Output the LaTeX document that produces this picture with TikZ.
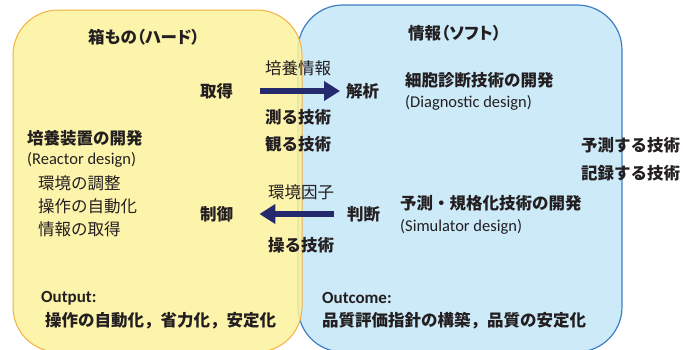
\documentclass[tikz,border=0pt]{standalone}
\usepackage{fontspec}
\setmainfont{Carlito}
\newfontfamily\jp{Noto Sans CJK JP}
\newfontfamily\jpp[RawFeature=+palt]{Noto Sans CJK JP}
\usetikzlibrary{arrows.meta}
\definecolor{txt}{HTML}{231F20}
\definecolor{yfill}{HTML}{FDF29E}
\definecolor{yline}{HTML}{F5B041}
\definecolor{bfill}{HTML}{CDEAF9}
\definecolor{bline}{HTML}{3F7FC4}
\definecolor{navy}{HTML}{252A6E}
\tikzset{
  jb/.style={inner sep=0pt, anchor=west, text=txt, font=\jp\bfseries\fontsize{16.5}{18}\selectfont},
  jt/.style={inner sep=0pt, anchor=west, text=txt, font=\jpp\bfseries\fontsize{16.5}{18}\selectfont},
  jr/.style={inner sep=0pt, anchor=west, text=txt, font=\jp\fontsize{16.5}{18}\selectfont},
  lr/.style={inner sep=0pt, anchor=west, text=txt, font=\fontsize{16.5}{18}\selectfont},
  lb/.style={inner sep=0pt, anchor=west, text=txt, font=\bfseries\fontsize{17}{18}\selectfont},
  bigarrow/.style={draw=navy, line width=6pt, -{Triangle[length=16pt,width=19pt]}},
}
\begin{document}
\begin{tikzpicture}[x=1pt,y=-1pt]
\useasboundingbox (0,0) rectangle (683,349);
% boxes
\draw[fill=bfill, draw=bline, line width=1.2pt, rounded corners=45pt] (298,5) rectangle (622,352);
\fill[yfill, opacity=0.85, rounded corners=45pt] (13,10) rectangle (302,352);
\draw[draw=yline, line width=1pt, rounded corners=45pt] (13,10) rectangle (302,352);
% titles
\node[jt] (hard) at (88,37) {箱もの（ハード）};
\node[jt] (soft) at (408,33) {情報（ソフト）};
% left column
\node[jb] (reactor) at (27,138) {培養装置の開発};
\node[lr] (reactoren) at (27,160) {(Reactor design)};
\node[jr] (k1) at (38,183) {環境の調整};
\node[jr] (k2) at (38,206) {操作の自動化};
\node[jr] (k3) at (38,229) {情報の取得};
% middle
\node[jb] (shutoku) at (200,91) {取得};
\node[jb] (seigyo) at (200,214) {制御};
\node[jr] (baiyou) at (265,68) {培養情報};
\node[jb] (hakaru) at (265,117) {測る技術};
\node[jb] (miru) at (265,144) {観る技術};
\node[jr] (kankyo) at (268,192) {環境因子};
\node[jb] (ayatsuru) at (268,245) {操る技術};
\node[jb] (kaiseki) at (346,91) {解析};
\node[jb] (handan) at (347,214) {判断};
% right
\node[jb] (diag) at (405,80) {細胞診断技術の開発};
\node[lr] (diagen) at (405,103) {(Diagnostic design)};
\node[jb] (sim) at (400,203) {予測・規格化技術の開発};
\node[lr] (simen) at (400,227) {(Simulator design)};
\node[jb] (yosoku) at (581,145) {予測する技術};
\node[jb] (kiroku) at (581,173) {記録する技術};
% outputs
\node[lb] (output) at (41,298) {Output:};
\node[jb] (outj) at (45,321) {操作の自動化，省力化，安定化};
\node[lb] (outcome) at (322,298) {Outcome:};
\node[jb] (outcj) at (322,321) {品質評価指針の構築，品質の安定化};
% arrows
\coordinate (a1s) at ([xshift=27pt]shutoku.east);
\coordinate (a1e) at ([xshift=-6pt]kaiseki.west);
\draw[bigarrow] (a1s) -- (a1e);
\coordinate (a2s) at ([xshift=-13pt]handan.west);
\coordinate (a2e) at ([xshift=26pt]seigyo.east);
\draw[bigarrow] (a2s) -- (a2e);
\end{tikzpicture}
\end{document}
